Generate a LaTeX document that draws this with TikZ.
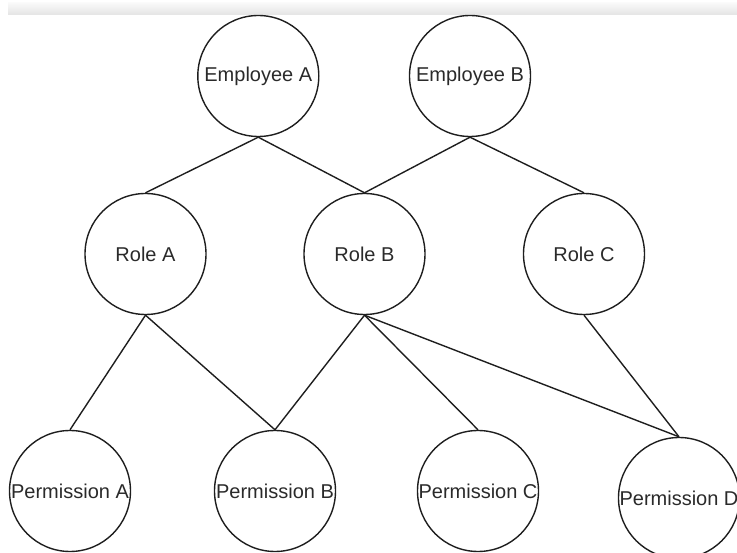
\documentclass[tikz,border=0pt]{standalone}
\usepackage{fontspec}
\setmainfont{Liberation Sans}
\definecolor{txt}{HTML}{2A2A2A}
\definecolor{edge}{HTML}{1E1E1E}
\definecolor{bartop}{HTML}{F9F9F9}
\definecolor{barbot}{HTML}{E4E4E4}
\begin{document}
\begin{tikzpicture}[x=1pt,y=-1pt,
  ent/.style={circle,draw=edge,line width=1.4pt,minimum size=121pt,inner sep=0pt,
    font=\fontsize{20}{24}\selectfont,text=txt},
  link/.style={draw=edge,line width=1.4pt}]
\useasboundingbox (0,0) rectangle (737,553);
\clip (0,0) rectangle (737,553);
\shade[top color=bartop,bottom color=barbot] (8,3) rectangle (737,15);
% employees
\node[ent] (ea) at (258.3,76) {Employee A};
\node[ent] (eb) at (470,76) {Employee B};
% roles
\node[ent] (ra) at (145.5,254) {Role A};
\node[ent] (rb) at (364.5,254) {Role B};
\node[ent] (rc) at (584,254) {Role C};
% permissions
\node[ent] (pa) at (70,491) {Permission A};
\node[ent] (pb) at (275,491) {Permission B};
\node[ent] (pc) at (478,491) {Permission C};
\node[ent] (pd) at (679,498) {Permission D};
% edges
\draw[link] (ea.south) -- (ra.north);
\draw[link] (ea.south) -- (rb.north);
\draw[link] (eb.south) -- (rb.north);
\draw[link] (eb.south) -- (rc.north);
\draw[link] (ra.south) -- (pa.north);
\draw[link] (ra.south) -- (pb.north);
\draw[link] (rb.south) -- (pb.north);
\draw[link] (rb.south) -- (pc.north);
\draw[link] (rb.south) -- (pd.north);
\draw[link] (rc.south) -- (pd.north);
\end{tikzpicture}
\end{document}
